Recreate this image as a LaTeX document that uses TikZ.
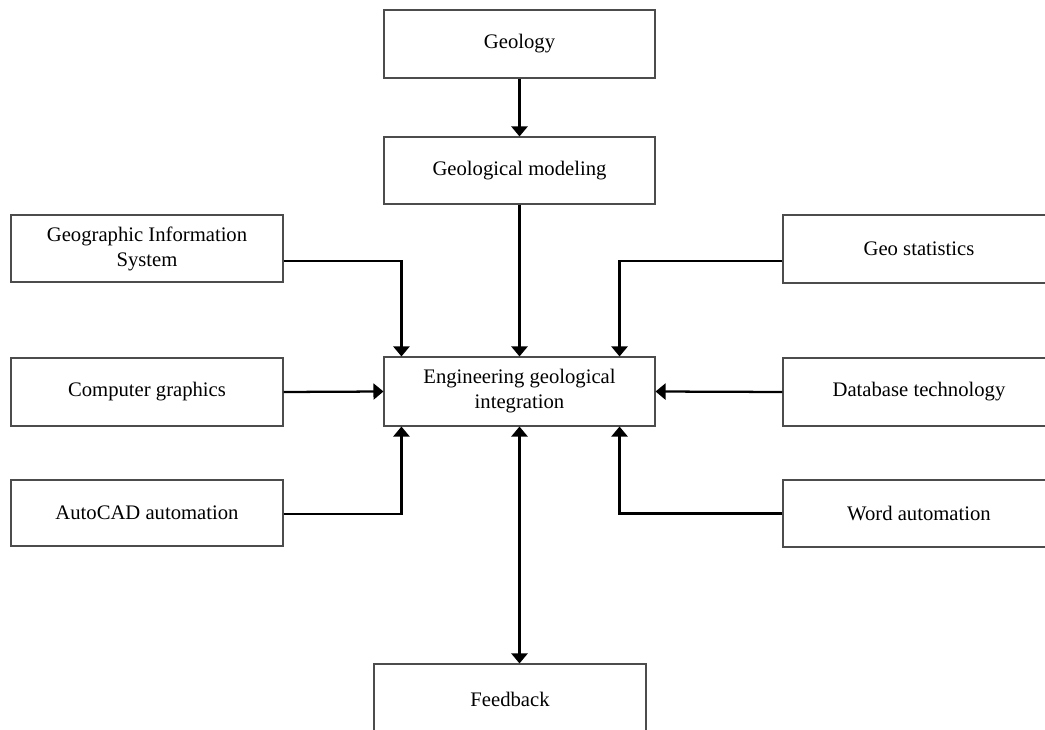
\documentclass[tikz,border=0pt]{standalone}
\usepackage{fontspec}
\setmainfont{Liberation Serif}
\usetikzlibrary{arrows.meta,calc}
\begin{document}
\begin{tikzpicture}[x=0.75pt,y=-0.75pt,
  box/.style={draw=black!70, line width=0.8pt, inner sep=0pt, align=center,
    font=\fontsize{15.5pt}{18.8pt}\selectfont},
  arr/.style={line width=1.7pt, -{Triangle[width=12pt,length=7.5pt]}},
  darr/.style={line width=1.7pt, {Triangle[width=12pt,length=7.5pt]}-{Triangle[width=12pt,length=7.5pt]}}]
\useasboundingbox (0,0) rectangle (1045,730);
\clip (0,0) rectangle (1045,730);
\fill[white] (0,0) rectangle (1045,730);
\node[box, minimum width=203.25pt, minimum height=51pt] (geo) at (519.5,44) {Geology};
\node[box, minimum width=203.25pt, minimum height=50.25pt] (model) at (519.5,170.5) {Geological modeling};
\node[box, minimum width=204pt, minimum height=50.25pt] (gis) at (147,248.5) {Geographic Information\\System};
\node[box, minimum width=204pt, minimum height=51pt] (gst) at (919,249) {Geo statistics};
\node[box, minimum width=204pt, minimum height=51pt] (cg) at (147,392) {Computer graphics};
\node[box, minimum width=204pt, minimum height=51pt] (db) at (919,392) {Database technology};
\node[box, minimum width=204pt, minimum height=49.5pt] (acad) at (147,513) {AutoCAD automation};
\node[box, minimum width=204pt, minimum height=50.25pt] (word) at (919,513.5) {Word automation};
\node[box, minimum width=203.25pt, minimum height=51.75pt] (eng) at (519.5,391.5) {Engineering geological\\integration};
\node[box, minimum width=204pt, minimum height=52.5pt] (fb) at (510,699) {Feedback};
\draw[arr] (geo) -- (model);
\draw[arr] (model) -- (eng);
\draw[arr] ($(gis.east)+(0,12.5)$) -| ($(eng.north west)+(18,0)$);
\draw[arr] ($(gst.west)+(0,12)$) -| ($(eng.north east)+(-36,0)$);
\draw[arr] (cg.east) -- (eng.west);
\draw[arr] (db.west) -- (eng.east);
\draw[arr] ($(acad.east)+(0,1)$) -| ($(eng.south west)+(18,0)$);
\draw[arr] (word.west) -| ($(eng.south east)+(-36,0)$);
\draw[darr] (eng.south) -- (fb.north -| eng.south);
\end{tikzpicture}
\end{document}
